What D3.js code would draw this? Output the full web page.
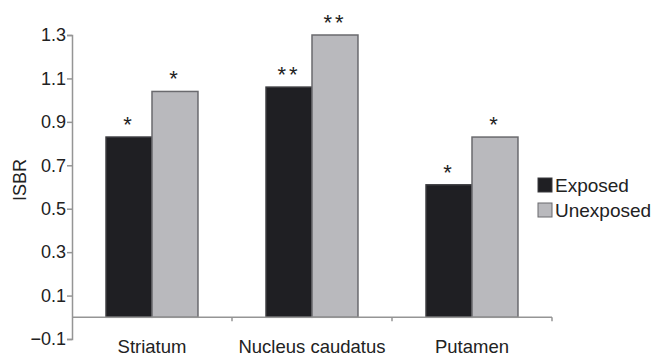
<!DOCTYPE html>
<html>
<head>
<meta charset="utf-8">
<script src="https://cdn.jsdelivr.net/npm/d3@7"></script>
<style>
  body { margin: 0; background: #fff; }
  svg text { font-family: "Liberation Sans", Arial, sans-serif; fill: #222; }
</style>
</head>
<body>
<div id="chart"></div>
<script>
var regions = ["Striatum", "Nucleus caudatus", "Putamen"];
var groups = ["Exposed", "Unexposed"];
var exposed = [0.83, 1.06, 0.61];
var unexposed = [1.04, 1.30, 0.83];
var exposedSig = ["*", "**", "*"];
var unexposedSig = ["*", "**", "*"];
var yTicks = [-0.1, 0.1, 0.3, 0.5, 0.7, 0.9, 1.1, 1.3];

var width = 656, height = 356;
var margin = {top: 35, right: 104, bottom: 17, left: 72};

var svg = d3.select("#chart").append("svg")
  .attr("width", width)
  .attr("height", height);

var x = d3.scaleBand()
  .domain(regions)
  .range([margin.left, width - margin.right]);
var inner = d3.scaleBand()
  .domain(groups)
  .range([0, x.bandwidth()])
  .paddingInner(0)
  .paddingOuter(0.74);
var y = d3.scaleLinear()
  .domain([-0.1, 1.3])
  .range([height - margin.bottom, margin.top]);

var colour = {Exposed: "#1f1f23", Unexposed: "#b9b9bd"};
var outline = {Exposed: "#3a3a3e", Unexposed: "#6a6a6e"};

var data = regions.map(function(r, i) {
  return {region: r, values: [
    {group: "Exposed", value: exposed[i], sig: exposedSig[i]},
    {group: "Unexposed", value: unexposed[i], sig: unexposedSig[i]}
  ]};
});

// bars
var g = svg.selectAll(".region")
  .data(data)
  .enter().append("g")
  .attr("class", "region")
  .attr("transform", function(d) { return "translate(" + x(d.region) + ",0)"; });

g.selectAll("rect")
  .data(function(d) { return d.values; })
  .enter().append("rect")
  .attr("x", function(d) { return inner(d.group); })
  .attr("width", inner.bandwidth())
  .attr("y", function(d) { return y(d.value); })
  .attr("height", function(d) { return y(0) - y(d.value); })
  .attr("fill", function(d) { return colour[d.group]; })
  .attr("stroke", function(d) { return outline[d.group]; })
  .attr("stroke-width", 1.5);

g.selectAll(".sig")
  .data(function(d) { return d.values; })
  .enter().append("text")
  .attr("class", "sig")
  .attr("x", function(d) { return inner(d.group) + inner.bandwidth() / 2; })
  .attr("y", function(d) { return y(d.value) - 5; })
  .attr("text-anchor", "middle")
  .style("font-size", "22px")
  .style("letter-spacing", "3px")
  .text(function(d) { return d.sig; });

// y axis
var yAxis = svg.append("g")
  .attr("transform", "translate(" + margin.left + ",0)")
  .call(d3.axisLeft(y).tickValues(yTicks).tickSize(5)
    .tickFormat(function(d) { return d < 0 ? "\u2212" + Math.abs(d).toFixed(1) : d.toFixed(1); }));
yAxis.select(".domain").attr("stroke", "#959595").attr("stroke-width", 1.5);
yAxis.selectAll(".tick line").attr("stroke", "#959595").attr("stroke-width", 1.5);
yAxis.selectAll(".tick text")
  .attr("x", -6)
  .style("font-size", "18px")
  .style("font-family", "'Liberation Sans', Arial, sans-serif")
  .attr("fill", "#222");

// zero axis with category boundary ticks
var xAxis = svg.append("g")
  .attr("transform", "translate(0," + y(0) + ")");
xAxis.append("line")
  .attr("x1", margin.left)
  .attr("x2", width - margin.right)
  .attr("stroke", "#959595")
  .attr("stroke-width", 1.5);
xAxis.selectAll(".bound")
  .data(regions)
  .enter().append("line")
  .attr("class", "bound")
  .attr("x1", function(d) { return x(d) + x.bandwidth(); })
  .attr("x2", function(d) { return x(d) + x.bandwidth(); })
  .attr("y1", 0)
  .attr("y2", 4)
  .attr("stroke", "#959595")
  .attr("stroke-width", 1.5);

svg.selectAll(".cat")
  .data(regions)
  .enter().append("text")
  .attr("class", "cat")
  .attr("x", function(d) { return x(d) + x.bandwidth() / 2; })
  .attr("y", height - 3)
  .attr("text-anchor", "middle")
  .style("font-size", "18.5px")
  .text(function(d) { return d; });

svg.append("text")
  .attr("transform", "translate(26,180) rotate(-90)")
  .attr("text-anchor", "middle")
  .style("font-size", "18px")
  .text("ISBR");

// legend
var legend = svg.selectAll(".legend")
  .data(groups)
  .enter().append("g")
  .attr("class", "legend")
  .attr("transform", function(d, i) { return "translate(538," + (178 + i * 25) + ")"; });
legend.append("rect")
  .attr("width", 14)
  .attr("height", 14)
  .attr("fill", function(d) { return colour[d]; })
  .attr("stroke", function(d) { return outline[d]; })
  .attr("stroke-width", 1);
legend.append("text")
  .attr("x", 17)
  .attr("y", 14)
  .style("font-size", "19px")
  .text(function(d) { return d; });
</script>
</body>
</html>
